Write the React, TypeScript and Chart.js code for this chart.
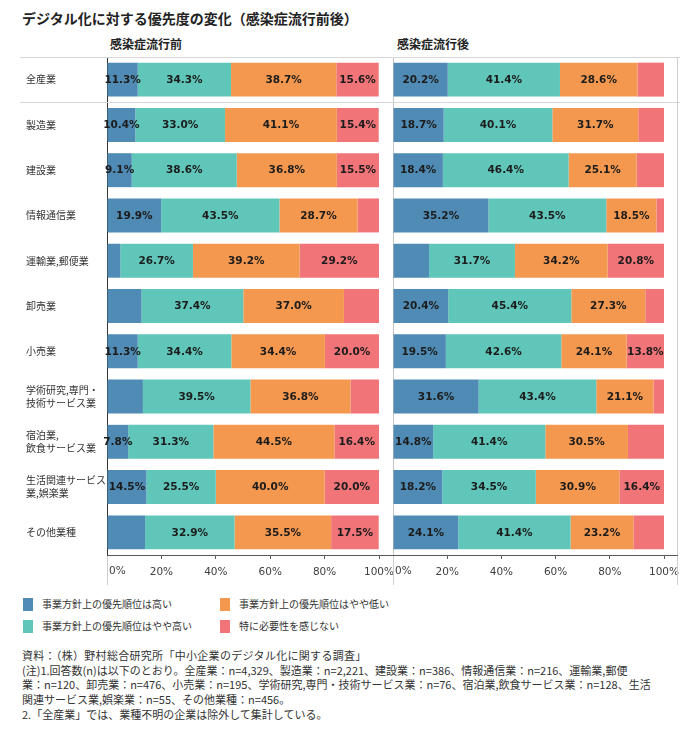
import React, { useEffect, useRef } from 'react';
import { Chart, registerables } from 'chart.js';

Chart.register(...registerables);

const categories: (string | string[])[] = [
  '全産業',
  '製造業',
  '建設業',
  '情報通信業',
  '運輸業,郵便業',
  '卸売業',
  '小売業',
  ['学術研究,専門・', '技術サービス業'],
  ['宿泊業,', '飲食サービス業'],
  ['生活関連サービス', '業,娯楽業'],
  'その他業種',
];

const seriesNames = [
  '事業方針上の優先順位は高い',
  '事業方針上の優先順位はやや高い',
  '事業方針上の優先順位はやや低い',
  '特に必要性を感じない',
];
const seriesColors = ['#4f8bb4', '#5fc6b9', '#f5984f', '#f07478'];

// 感染症流行前
const beforeHigh = [11.3, 10.4, 9.1, 19.9, 4.9, 12.7, 11.3, 13.2, 7.8, 14.5, 14.0];
const beforeSomewhatHigh = [34.3, 33.0, 38.6, 43.5, 26.7, 37.4, 34.4, 39.5, 31.3, 25.5, 32.9];
const beforeSomewhatLow = [38.7, 41.1, 36.8, 28.7, 39.2, 37.0, 34.4, 36.8, 44.5, 40.0, 35.5];
const beforeNotNeeded = [15.6, 15.4, 15.5, 7.9, 29.2, 12.9, 20.0, 10.5, 16.4, 20.0, 17.5];
// labels not printed in the original (series -> category indices)
const beforeHiddenLabels = [[4, 5, 7, 10], [], [], [3, 5, 7]];

// 感染症流行後
const afterHigh = [20.2, 18.7, 18.4, 35.2, 13.3, 20.4, 19.5, 31.6, 14.8, 18.2, 24.1];
const afterSomewhatHigh = [41.4, 40.1, 46.4, 43.5, 31.7, 45.4, 42.6, 43.4, 41.4, 34.5, 41.4];
const afterSomewhatLow = [28.6, 31.7, 25.1, 18.5, 34.2, 27.3, 24.1, 21.1, 30.5, 30.9, 23.2];
const afterNotNeeded = [9.8, 9.5, 10.1, 2.8, 20.8, 6.9, 13.8, 3.9, 13.3, 16.4, 11.3];
const afterHiddenLabels = [[4], [], [], [0, 1, 2, 3, 5, 7, 8, 10]];

const xTickValues = [0, 20, 40, 60, 80, 100];

const titleText = 'デジタル化に対する優先度の変化（感染症流行前後）';
const panelTitles = ['感染症流行前', '感染症流行後'];
const footnoteLines = [
  '資料：（株）野村総合研究所「中小企業のデジタル化に関する調査」',
  '(注)1.回答数(n)は以下のとおり。全産業：n=4,329、製造業：n=2,221、建設業：n=386、情報通信業：n=216、運輸業,郵便',
  '業：n=120、卸売業：n=476、小売業：n=195、学術研究,専門・技術サービス業：n=76、宿泊業,飲食サービス業：n=128、生活',
  '関連サービス業,娯楽業：n=55、その他業種：n=456。',
  '2.「全産業」では、業種不明の企業は除外して集計している。',
];

const JP = '"Noto Sans CJK JP", "Noto Sans", sans-serif';
const NUM = '"DejaVu Sans", Verdana, sans-serif';
const CANVAS_H = 528;
const AXIS_H = 30;
const TICK_LEN = 4;
const TICK_PAD = 7;

function makePlugin(hidden: number[][], isLeft: boolean, lineEnd: number) {
  return {
    id: 'panelDecor',
    afterDatasetsDraw(chart: any) {
      const ctx = chart.ctx;
      ctx.save();
      ctx.font = `bold 10.5px ${NUM}`;
      ctx.fillStyle = '#1c1c1c';
      ctx.textAlign = 'center';
      ctx.textBaseline = 'middle';
      chart.data.datasets.forEach((ds: any, di: number) => {
        const meta = chart.getDatasetMeta(di);
        meta.data.forEach((el: any, i: number) => {
          if (hidden[di].includes(i)) return;
          const p = el.getProps(['x', 'base', 'y'], true);
          const v = ds.data[i] as number;
          ctx.fillText(v.toFixed(1) + '%', (p.x + p.base) / 2, p.y + 0.5);
        });
      });
      ctx.restore();
    },
    afterDraw(chart: any) {
      const { ctx, chartArea, height, scales } = chart;
      ctx.save();
      ctx.lineWidth = 1;
      const ys = scales.y;
      const sepY = Math.round((ys.getPixelForValue(0) + ys.getPixelForValue(1)) / 2) + 0.5;
      const x0 = isLeft ? 20 : 0;
      ctx.strokeStyle = '#d6d6d6';
      ctx.beginPath();
      ctx.moveTo(x0, chartArea.top + 0.5);
      ctx.lineTo(lineEnd, chartArea.top + 0.5);
      ctx.moveTo(x0, sepY);
      ctx.lineTo(lineEnd, sepY);
      ctx.stroke();

      ctx.strokeStyle = '#cfcfcf';
      ctx.beginPath();
      const ax = Math.round(chartArea.left) + 0.5;
      ctx.moveTo(ax, chartArea.bottom);
      ctx.lineTo(ax, height);
      if (!isLeft) {
        ctx.moveTo(lineEnd - 2.5, chartArea.top);
        ctx.lineTo(lineEnd - 2.5, height);
      }
      ctx.stroke();

      const by = Math.round(chartArea.bottom) + 0.5;
      ctx.strokeStyle = '#595959';
      ctx.beginPath();
      ctx.moveTo(isLeft ? chartArea.left : 0, by);
      ctx.lineTo(isLeft ? lineEnd : lineEnd - 2, by);
      ctx.stroke();

      ctx.font = `10.5px ${NUM}`;
      ctx.fillStyle = '#404040';
      ctx.textAlign = 'left';
      ctx.textBaseline = 'top';
      ctx.fillText('0%', scales.x.getPixelForValue(0) + 2, chartArea.bottom + TICK_LEN + TICK_PAD);
      ctx.restore();
    },
  };
}

function Panel(props: {
  left: number;
  width: number;
  padRight: number;
  lineEnd: number;
  isLeft: boolean;
  series: number[][];
  hidden: number[][];
}) {
  const ref = useRef<HTMLCanvasElement>(null);
  useEffect(() => {
    const { isLeft, series, hidden, padRight, lineEnd } = props;
    const chart = new Chart(ref.current as HTMLCanvasElement, {
      type: 'bar',
      data: {
        labels: categories as any,
        datasets: series.map((d, i) => ({
          label: seriesNames[i],
          data: d,
          backgroundColor: seriesColors[i],
          borderWidth: 0,
          barPercentage: 0.75,
          categoryPercentage: 1,
        })),
      },
      options: {
        indexAxis: 'y',
        responsive: false,
        maintainAspectRatio: false,
        animation: false,
        devicePixelRatio: 1,
        layout: { padding: { left: isLeft ? 26 : 0, right: padRight, top: 0, bottom: 0 } },
        plugins: { legend: { display: false }, tooltip: { enabled: false } },
        scales: {
          x: {
            stacked: true,
            min: 0,
            max: 100,
            afterBuildTicks: (s: any) => {
              s.ticks = xTickValues.map((v) => ({ value: v }));
            },
            ticks: {
              callback: (v: any) => v + '%',
              font: { family: NUM, size: 10.5 },
              color: (c: any) => (c.tick && c.tick.value === 0 ? 'rgba(0,0,0,0)' : '#404040'),
              padding: TICK_PAD,
              maxRotation: 0,
              autoSkip: false,
            },
            grid: { display: true, drawOnChartArea: false, drawTicks: true, tickLength: TICK_LEN, color: '#595959' },
            border: { display: false },
            afterFit: (s: any) => {
              s.height = AXIS_H;
              s.paddingLeft = 0;
              s.paddingRight = 0;
            },
          },
          y: {
            stacked: true,
            grid: { display: false },
            border: { display: true, color: isLeft ? '#333333' : '#c4c4c4', width: 1 },
            ticks: {
              display: isLeft,
              crossAlign: 'far',
              padding: 0,
              autoSkip: false,
              font: { family: JP, size: 10, lineHeight: 1.3 },
              color: '#333333',
            },
            afterFit: (s: any) => {
              s.width = isLeft ? 81 : 8;
              s.paddingTop = 0;
              s.paddingBottom = 0;
            },
          },
        },
      },
      plugins: [makePlugin(hidden, isLeft, lineEnd)],
    } as any);
    return () => chart.destroy();
  }, []);
  return (
    <canvas
      ref={ref}
      width={props.width}
      height={CANVAS_H}
      style={{ position: 'absolute', left: props.left, top: 57, width: props.width, height: CANVAS_H }}
    />
  );
}

export default function App() {
  const legendItems = [
    { idx: 0, x: 23, y: 604 },
    { idx: 1, x: 23, y: 626 },
    { idx: 2, x: 220, y: 604 },
    { idx: 3, x: 220, y: 626 },
  ];
  return (
    <div
      style={{
        position: 'absolute',
        left: 0,
        top: 0,
        width: 700,
        height: 734,
        background: '#ffffff',
        fontFamily: JP,
        color: '#333',
        overflow: 'hidden',
      }}
    >
      <div style={{ position: 'absolute', left: 22, top: 8, fontSize: 14, lineHeight: '20px', fontWeight: 'bold', color: '#222', whiteSpace: 'nowrap' }}>
        {titleText}
      </div>
      <div style={{ position: 'absolute', left: 110, top: 36, fontSize: 12, lineHeight: '16px', fontWeight: 'bold', color: '#222' }}>
        {panelTitles[0]}
      </div>
      <div style={{ position: 'absolute', left: 397, top: 36, fontSize: 12, lineHeight: '16px', fontWeight: 'bold', color: '#222' }}>
        {panelTitles[1]}
      </div>
      <Panel
        left={0}
        width={400}
        padRight={21}
        lineEnd={385}
        isLeft={true}
        series={[beforeHigh, beforeSomewhatHigh, beforeSomewhatLow, beforeNotNeeded]}
        hidden={beforeHiddenLabels}
      />
      <Panel
        left={385}
        width={300}
        padRight={21}
        lineEnd={295}
        isLeft={false}
        series={[afterHigh, afterSomewhatHigh, afterSomewhatLow, afterNotNeeded]}
        hidden={afterHiddenLabels}
      />
      {legendItems.map((it) => (
        <div key={it.idx} style={{ position: 'absolute', left: it.x, top: it.y - 7, height: 14, display: 'flex', alignItems: 'center', whiteSpace: 'nowrap' }}>
          <div style={{ width: 10, height: 13, background: seriesColors[it.idx], marginRight: 9 }} />
          <span style={{ fontSize: 10, lineHeight: '14px', color: '#333' }}>{seriesNames[it.idx]}</span>
        </div>
      ))}
      <div style={{ position: 'absolute', left: 22, top: 648, fontSize: 11, lineHeight: '14.7px', color: '#333' }}>
        {footnoteLines.map((l, i) => (
          <div key={i} style={{ whiteSpace: 'nowrap', letterSpacing: i === 0 ? '0.3px' : '0px' }}>{l}</div>
        ))}
      </div>
    </div>
  );
}
